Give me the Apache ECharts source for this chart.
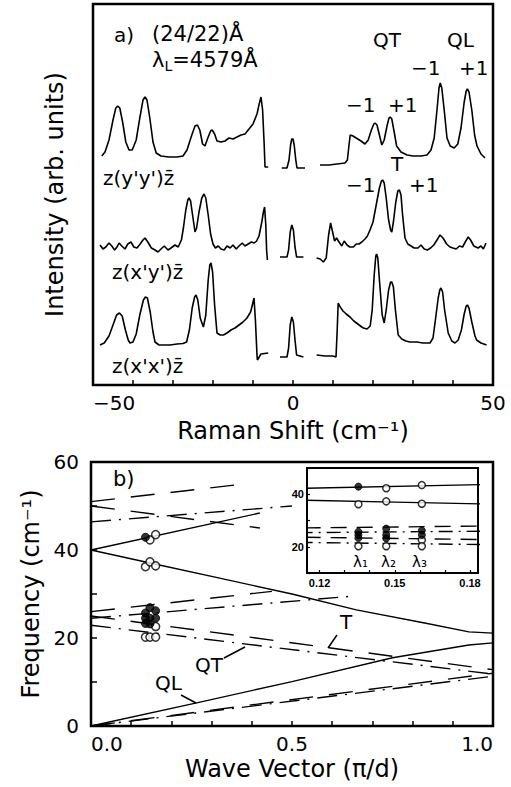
<!DOCTYPE html>
<html><head><meta charset="utf-8">
<script src="https://cdn.jsdelivr.net/npm/echarts@6/dist/echarts.min.js"></script>
<style>html,body{margin:0;padding:0;background:#fff}#c{width:511px;height:787px}</style>
</head><body><div id="c"></div>
<script>
// ---------- Panel a) Raman spectra: [shift (cm^-1), intensity (arb.)] ----------
const yyLeft = [[-47.8,229],[-47,233],[-46,245],[-45,265],[-44.3,277],[-43.8,279],[-43.3,277],[-42.6,263],[-41.8,243],[-41,235],[-40.2,235],[-39.2,245],[-38.3,267],[-37.5,285],[-37,288],[-36.5,285],[-35.8,267],[-35,243],[-34.2,232],[-33,229],[-31,228],[-29,228],[-27.5,229],[-26.5,235],[-25.3,250],[-24.5,259],[-23.9,260],[-23.3,255],[-22.6,241],[-22,239],[-21.3,247],[-20.6,254],[-20.2,255],[-19.6,251],[-19,244],[-18,243],[-17,244],[-16,247],[-15,246],[-14,248],[-13,250],[-12,251],[-11,256],[-10,261],[-9,271],[-8.4,282],[-8,288],[-7.6,275],[-7.2,240],[-7,218],[-6.2,218]];
const yyCenter = [[-2.8,217],[-1.5,217],[-1.0,225],[-0.6,240],[-0.3,246],[0,246],[0.3,240],[0.7,225],[1.0,217],[3,217]];
const yyRight = [[6.75,220],[9,220],[11,221],[13,222],[13.6,225],[14,240],[14.3,250],[15,249],[16,246.5],[17,244],[18,241],[18.8,245],[19.6,255],[20.2,261],[20.5,262],[21,260],[21.6,250],[22.2,240],[22.8,245],[23.5,259],[24,267],[24.3,268],[24.7,266],[25.3,253],[25.9,239],[27,233],[28.5,230],[30,229],[32,229],[33.5,230],[34.5,235],[35.3,247],[36,275],[36.5,297],[36.8,302],[37.2,297],[37.8,275],[38.5,247],[39.3,239],[40.3,237],[41.2,241],[42,257],[42.8,283],[43.3,294],[43.6,296],[44,293],[44.7,275],[45.4,250],[46,239],[47,231],[48,227]];

const xyLeft = [[-48.25,140],[-47.5,136],[-46.8,138],[-46,142],[-45.3,139],[-44.6,135],[-44,138],[-43.5,142],[-42.8,139],[-42,136],[-41.3,141],[-40.5,143],[-39.8,138],[-39,137],[-38.2,141],[-37.5,145],[-37,147],[-36.3,143],[-35.4,137],[-34.5,135],[-33.75,133],[-33,136],[-32.2,139],[-31.25,135],[-30.5,137],[-29.5,140],[-28.7,138],[-27.9,145],[-27.4,157],[-26.8,175],[-26.3,185],[-26,187],[-25.6,184],[-25,167],[-24.5,153],[-24.1,157],[-23.5,173],[-22.8,187],[-22.25,191],[-21.8,187],[-21.2,170],[-20.6,151],[-20,141],[-19.4,137],[-18.7,139],[-18,136],[-17.2,135],[-16.5,139],[-15.7,137],[-15,140],[-14.2,136],[-13.5,139],[-12.7,142],[-12,139],[-11.2,141],[-10.4,143],[-9.7,142],[-9.1,144],[-8.5,149],[-7.8,163],[-7.4,173],[-7.1,178],[-6.8,160],[-6.6,135],[-6.4,125]];
const xyCenter = [[-3.25,128],[-1.5,128],[-1.1,135],[-0.7,153],[-0.3,160],[0.1,155],[0.5,138],[0.9,128],[2.6,128]];
const xyRight = [[5.9,127],[6.8,126],[7.6,123],[8.3,127],[8.9,150],[9.4,162],[9.9,153],[10.4,144],[10.9,147],[11.5,143],[12.2,139],[12.8,144],[13.5,140],[14.2,138],[15.1,138],[15.8,141],[16.5,141],[17.2,143],[18,146],[18.6,149],[19.25,155],[20,163],[20.8,180],[21.6,197],[22.1,204],[22.4,205],[22.8,202],[23.3,187],[23.9,165],[24.4,155],[24.7,153],[25.1,163],[25.7,183],[26.2,194],[26.6,195],[27,190],[27.4,170],[28,147],[28.7,141],[29.5,139],[30.3,137],[31.25,137],[32,140],[32.8,136],[33.6,135],[34.4,137],[35.2,140],[36,145],[36.75,150],[37.5,147],[38.4,141],[39.25,138],[40,137],[40.8,136],[41.6,139],[42.4,138],[43.2,144],[43.8,148],[44.4,145],[45.2,139],[46.25,137],[47,139],[47.6,136],[48.25,142]];

const xxLeft = [[-48.25,40],[-47.2,42],[-46,49],[-45,60],[-44.1,70],[-43.4,72],[-42.7,69],[-41.9,55],[-41.2,45],[-40.75,42],[-40,43],[-39.2,51],[-38.3,70],[-37.4,85],[-36.9,88],[-36.4,87],[-35.7,73],[-35,53],[-34.5,43],[-33.5,40],[-32,40],[-30.75,40],[-29,41],[-27.5,41.5],[-26.6,43],[-25.9,55],[-25.2,77],[-24.6,88],[-24.25,90],[-23.8,85],[-23.2,67],[-22.4,58],[-21.8,70],[-21.2,105],[-20.8,120],[-20.5,122],[-20.1,113],[-19.6,80],[-19,52],[-18.2,50],[-17.4,50],[-16.5,52],[-15.5,55],[-14.5,57],[-13.5,60],[-12.5,63],[-11.5,67],[-10.6,73],[-10.1,81],[-9.75,87],[-9.4,65],[-9,30],[-8.9,25],[-8,31],[-6.2,32]];
const xxCenter = [[-3.25,28],[-1.5,28],[-1.1,37],[-0.7,60],[-0.3,68],[0.1,63],[0.5,45],[0.9,30],[2.6,28]];
const xxRight = [[5.9,30],[8,29],[10,29],[10.75,28],[11,50],[11.3,82],[11.8,78],[12.5,74],[13.3,71],[14.25,68],[15.2,64],[16.2,61],[17.2,58],[17.6,57],[18.5,56],[19.3,59],[19.8,75],[20.3,110],[20.7,129],[20.9,131],[21.2,127],[21.7,100],[22.3,70],[22.8,62],[23.3,75],[23.9,95],[24.4,103],[24.7,103],[25.1,98],[25.6,75],[26.3,50],[27.2,46],[28.2,44],[29.25,43],[31,43],[32.5,42],[34.25,42],[35,47],[35.6,65],[36.3,87],[36.7,95],[37,97],[37.4,93],[37.9,75],[38.8,52],[39.7,44],[40.5,42],[41.3,45],[42.1,55],[42.8,71],[43.3,79],[43.6,80],[44,77],[44.7,63],[45.5,49],[45.9,45],[47,42],[48.4,40]];

// ---------- Panel b) dispersion: [wave vector (pi/d), frequency (cm^-1)] ----------
const qlBranch1 = [[0,0],[0.26,5.2],[0.5,10.1],[0.75,15.5],[0.94,18.4],[1,18.9]];
const qlBranch2 = [[0,40],[0.15,37],[0.32,33.6],[0.5,30],[0.66,26.4],[0.83,23.4],[0.94,21.4],[1,21.1]];
const qlBranch3 = [[0,40],[0.42,48.4]];
const qtBranch1 = [[0,0],[1,12]];
const tBranch1  = [[0,0],[1,11.3]];
const qtBranch2 = [[0,25],[1,12.8]];
const tBranch2  = [[0,22.9],[1,11.8]];
const qtBranch3 = [[0,26],[0.45,30.6]];
const tBranch3  = [[0,24.5],[0.65,29.5]];
const qtBranch4 = [[0,50],[0.42,45]];
const qtBranch5 = [[0,51],[0.38,55]];
const tBranch4  = [[0,46.4],[0.5,50]];

const measuredFilled = [[0.1355,42.9],[0.1355,25.7],[0.1355,24.5],[0.1355,23.3],[0.1466,26.9],[0.1466,24.5],[0.1466,23.2],[0.1608,26.2],[0.1608,24.5]];
const measuredOpen = [[0.1355,36.2],[0.1355,20.2],[0.1466,42.3],[0.1466,37.3],[0.1466,20.2],[0.1608,43.5],[0.1608,36.4],[0.1608,22.6],[0.1608,20.2]];

// tick labels
const ramanTickLabels = [-50, 0, 50];
const qTickLabels = [0, 0.5, 1];
const freqTickLabels = [0, 20, 40, 60];
const insetQTicks = [0.12, 0.13, 0.14, 0.15, 0.16, 0.17, 0.18];
const insetQLabels = [0.12, 0.15, 0.18];
const insetFreqLabels = [20, 40];

const FONT = '"DejaVu Sans", sans-serif';
const near = (v, arr) => arr.some(a => Math.abs(a - v) < 1e-6);
const minus = s => String(s).replace('-', '\u2212');

const series = [];
[yyLeft, yyCenter, yyRight, xyLeft, xyCenter, xyRight, xxLeft, xxCenter, xxRight].forEach(d => {
  series.push({type:'line', xAxisIndex:0, yAxisIndex:0, data:d, symbol:'none', silent:true,
    lineStyle:{color:'#000', width:1.6}, z:3});
});
const DASH = [24, 16], DASHDOT = [20, 8, 2, 8];
const mainBranches = [
  [qlBranch1,'solid'],[qlBranch2,'solid'],[qlBranch3,'solid'],
  [qtBranch1,DASH],[tBranch1,DASHDOT],[qtBranch2,DASH],[tBranch2,DASHDOT],
  [qtBranch3,DASH],[tBranch3,DASHDOT],[qtBranch4,DASH],[qtBranch5,DASH],[tBranch4,DASHDOT]
];
const insetBranches = [
  [qlBranch2,'solid'],[qlBranch3,'solid'],
  [qtBranch2,[16,10]],[tBranch2,[14,6,2,6]],[qtBranch3,[16,10]],[tBranch3,[14,6,2,6]]
];
[[1, 3, mainBranches], [2, 8, insetBranches]].forEach(([gi, z, list]) => {
  list.forEach(([d, t]) => {
    series.push({type:'line', xAxisIndex:gi, yAxisIndex:gi, data:d, symbol:'none', silent:true, clip:true,
      lineStyle:{color:'#000', width: gi === 2 ? 1.4 : 1.4, type:t}, z:z});
  });
  series.push({type:'scatter', xAxisIndex:gi, yAxisIndex:gi, data:measuredOpen, symbol:'circle', symbolSize: gi===2?7:8,
    itemStyle:{color:'#fff', borderColor:'#000', borderWidth:1.5}, z:z+1, silent:true});
  series.push({type:'scatter', xAxisIndex:gi, yAxisIndex:gi, data:measuredFilled, symbol:'circle', symbolSize: gi===2?7:8,
    itemStyle:{color:'#000', borderColor:'#000', borderWidth:1}, z:z+1, silent:true});
});

const axisNameStyle = {color:'#000', fontSize:24, fontFamily:FONT};
const option = {
  animation:false,
  backgroundColor:'#fff',
  grid:[
    {left:93, top:4, width:400, height:381, show:true, borderColor:'#000', borderWidth:2.5, backgroundColor:'transparent'},
    {left:91, top:462, width:402, height:264, show:true, borderColor:'#000', borderWidth:2.5, backgroundColor:'transparent'},
    {left:307, top:468, width:171, height:105, show:true, borderColor:'#000', borderWidth:2, backgroundColor:'#fff', z:6}
  ],
  xAxis:[
    {gridIndex:0, type:'value', min:-50, max:50, interval:10,
     axisLine:{show:false}, splitLine:{show:false},
     axisTick:{inside:true, length:5, lineStyle:{color:'#000', width:1.5}},
     axisLabel:{color:'#000', fontSize:20, fontFamily:FONT, margin:8, alignMinLabel:'left', alignMaxLabel:'center',
       formatter:v => near(v, ramanTickLabels) ? minus(Math.round(v)) : ''},
     name:'Raman Shift (cm\u207B\u00B9)', nameLocation:'middle', nameGap:34, nameTextStyle:axisNameStyle},
    {gridIndex:1, type:'value', min:0, max:1, interval:0.1,
     axisLine:{show:false}, splitLine:{show:false},
     axisTick:{inside:true, length:5, lineStyle:{color:'#000', width:1.5}},
     axisLabel:{color:'#000', fontSize:20, fontFamily:FONT, margin:8, alignMinLabel:'left', alignMaxLabel:'right',
       formatter:v => near(v, qTickLabels) ? v.toFixed(1) : ''},
     name:'Wave Vector (\u03C0/d)', nameLocation:'middle', nameGap:31, nameTextStyle:axisNameStyle},
    {gridIndex:2, type:'value', min:0.115, max:0.1832, z:8,
     axisLine:{show:false}, splitLine:{show:false},
     axisTick:{inside:true, length:3, customValues:insetQTicks, lineStyle:{color:'#000', width:1.2}},
     axisLabel:{color:'#000', fontSize:11, fontWeight:'bold', fontFamily:'"Liberation Sans", sans-serif', margin:4,
       customValues:insetQLabels, formatter:v => v.toFixed(2)}}
  ],
  yAxis:[
    {gridIndex:0, type:'value', min:0, max:381,
     axisLine:{show:false}, axisTick:{show:false}, axisLabel:{show:false}, splitLine:{show:false},
     name:'Intensity (arb. units)', nameLocation:'middle', nameGap:26, nameTextStyle:axisNameStyle},
    {gridIndex:1, type:'value', min:0, max:60, interval:10,
     axisLine:{show:false}, splitLine:{show:false},
     axisTick:{inside:true, length:6, lineStyle:{color:'#000', width:1.5}},
     axisLabel:{color:'#000', fontSize:20, fontFamily:FONT, margin:12,
       formatter:v => near(v, freqTickLabels) ? String(Math.round(v)) : ''},
     name:'Frequency (cm\u207B\u00B9)', nameLocation:'middle', nameGap:42, nameTextStyle:axisNameStyle},
    {gridIndex:2, type:'value', min:10, max:50, interval:10, z:8,
     axisLine:{show:false}, splitLine:{show:false},
     axisTick:{inside:true, length:3, lineStyle:{color:'#000', width:1.2}},
     axisLabel:{color:'#000', fontSize:11, fontWeight:'bold', fontFamily:'"Liberation Sans", sans-serif', margin:3,
       formatter:v => near(v, insetFreqLabels) ? String(Math.round(v)) : ''}}
  ],
  series: series
};

function txt(x, y, text, size, extra) {
  return Object.assign({type:'text', x:x, y:y, z:20, silent:true,
    style:{text:text, font: size + 'px ' + FONT, fill:'#000', textAlign:'left', align:'left',
      textVerticalAlign:'middle', verticalAlign:'middle'}}, extra || {});
}
function seg(x1, y1, x2, y2) {
  return {type:'line', z:20, silent:true, shape:{x1, y1, x2, y2}, style:{stroke:'#000', lineWidth:1.5}};
}
const bar = '\u0304';
option.graphic = {elements:[
  txt(114, 35, 'a)', 20),
  txt(152, 34, '(24/22)\u00C5', 21),
  {type:'text', x:152, y:60, z:20, silent:true, style:{text:'{a|\u03BB}{s|L}{a|=4579\u00C5}', fill:'#000',
    textAlign:'left', align:'left', textVerticalAlign:'middle', verticalAlign:'middle',
    rich:{a:{fontSize:21, fontFamily:FONT, lineHeight:26, verticalAlign:'middle'},
          s:{fontSize:14, fontFamily:FONT, lineHeight:14, verticalAlign:'bottom'}}}},
  txt(373, 40, 'QT', 20),
  txt(447, 40, 'QL', 20),
  txt(411, 68, '\u22121', 20), txt(459, 68, '+1', 20),
  txt(346, 105, '\u22121', 20), txt(388, 105, '+1', 20),
  txt(391, 164, 'T', 20),
  txt(346, 185, '\u22121', 20), txt(409, 185, '+1', 20),
  txt(103, 178, 'z(y\'y\')z' + bar, 20),
  txt(112, 272, 'z(x\'y\')z' + bar, 20),
  txt(112, 366, 'z(x\'x\')z' + bar, 20),
  txt(113, 479, 'b)', 21),
  txt(340, 622, 'T', 20), seg(337, 635, 328, 648),
  txt(195, 665, 'QT', 20), seg(224, 658, 245, 647),
  txt(155, 683, 'QL', 20), seg(181, 695, 196, 703),
  txt(353, 562, '\u03BB\u2081', 15),
  txt(381, 562, '\u03BB\u2082', 15),
  txt(412, 562, '\u03BB\u2083', 15)
]};

const chart = echarts.init(document.getElementById('c'), null, {renderer:'svg'});
chart.setOption(option);
</script></body></html>
